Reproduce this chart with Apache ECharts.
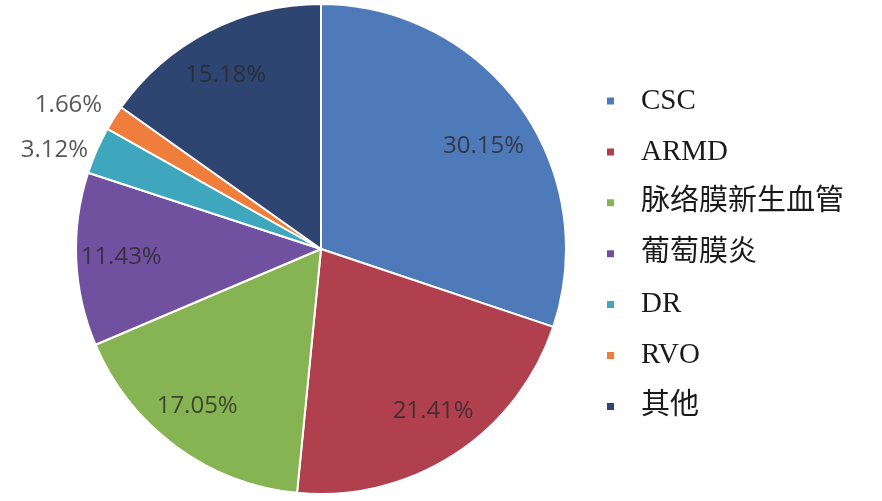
<!DOCTYPE html>
<html>
<head>
<meta charset="utf-8">
<script src="https://cdn.jsdelivr.net/npm/echarts@6/dist/echarts.min.js"></script>
<style>
  html, body { margin: 0; padding: 0; background: #fff; }
  #main { width: 882px; height: 501px; }
</style>
</head>
<body>
<div id="main"></div>
<script>
// 数据
const categories = ['CSC', 'ARMD', '脉络膜新生血管', '葡萄膜炎', 'DR', 'RVO', '其他'];
const values = [30.15, 21.41, 17.05, 11.43, 3.12, 1.66, 15.18];
const colors = ['#4f7aba', '#b1404f', '#86b452', '#7051a0', '#3fa7bd', '#ef7d3b', '#2f4571'];
// 标签放在饼外的扇区
const outsideNames = ['DR', 'RVO'];
// 标签微调 [dx, dy]
const labelNudge = [[1, 13], [4, -5], [-6, -3], [-1, 0], [2, 1], [12, -2], [-4, 3]];

const labelColor = 'rgba(40,40,40,0.78)';
const labelFont = "'Open Sans', sans-serif";

function nudge(params) {
  const n = labelNudge[params.dataIndex];
  return { dx: n[0], dy: n[1] };
}

// 主饼图
const mainData = categories.map((name, i) => {
  const item = { name: name, value: values[i], itemStyle: { color: colors[i] } };
  if (outsideNames.indexOf(name) >= 0) {
    item.label = { show: true };
    item.labelLine = { length: name === 'RVO' ? 20 : 4, length2: 2 };
  }
  return item;
});

// 内部标签层（透明环）
const labelData = categories.map((name, i) => ({
  name: name,
  value: values[i],
  label: { show: outsideNames.indexOf(name) < 0 }
}));

const chart = echarts.init(document.getElementById('main'));
chart.setOption({
  animation: false,
  legend: {
    orient: 'vertical',
    left: 605,
    top: 86,
    padding: 0,
    itemWidth: 9,
    itemHeight: 9,
    itemGap: 20.9,
    icon: 'rect',
    textStyle: {
      fontFamily: "'Liberation Serif', 'Noto Sans CJK SC', serif",
      fontSize: 29,
      lineHeight: 30,
      color: '#1a1a1a',
      padding: [0, 0, 0, 21]
    },
    data: categories
  },
  series: [
    {
      type: 'pie',
      center: [321, 249],
      radius: [0, 245],
      startAngle: 90,
      clockwise: true,
      avoidLabelOverlap: false,
      itemStyle: { borderColor: '#fff', borderWidth: 2 },
      label: {
        show: false,
        position: 'outside',
        formatter: '{c}%',
        color: labelColor,
        fontFamily: labelFont,
        fontSize: 24
      },
      labelLine: { show: false },
      labelLayout: nudge,
      emphasis: { disabled: true },
      data: mainData
    },
    {
      type: 'pie',
      center: [321, 249],
      radius: [147, 245],
      startAngle: 90,
      clockwise: true,
      silent: true,
      avoidLabelOverlap: false,
      itemStyle: { color: 'rgba(0,0,0,0)', borderWidth: 0 },
      label: {
        position: 'inside',
        formatter: '{c}%',
        color: labelColor,
        fontFamily: labelFont,
        fontSize: 24
      },
      labelLine: { show: false },
      labelLayout: nudge,
      data: labelData
    }
  ]
});
</script>
</body>
</html>
